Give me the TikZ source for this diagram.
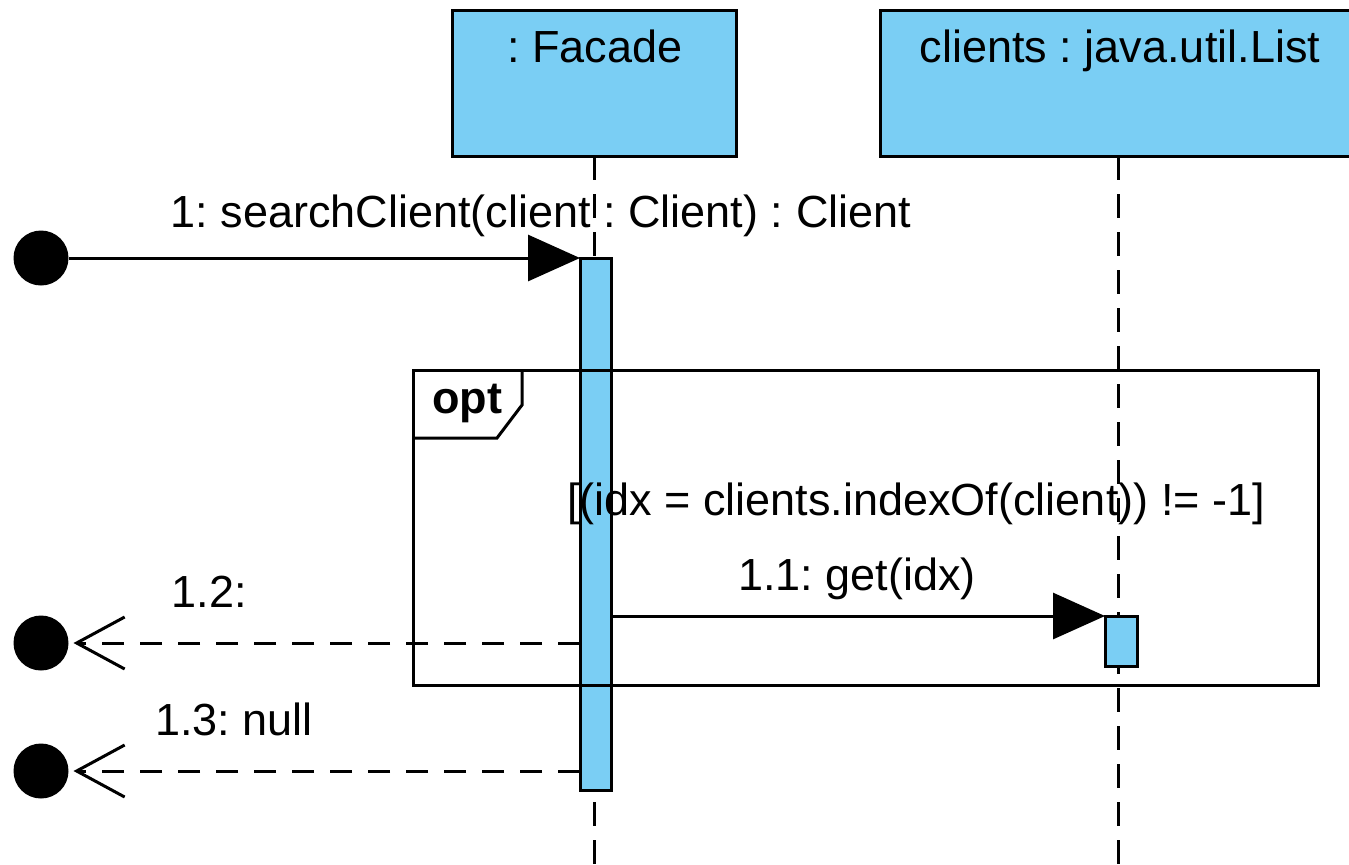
\documentclass[tikz,border=0pt]{standalone}
\usepackage{fontspec}
\setmainfont{Liberation Sans}
\usetikzlibrary{arrows.meta}
\definecolor{umlblue}{RGB}{122,206,244}
\frenchspacing
\begin{document}
\begin{tikzpicture}[x=0.5pt,y=-0.5pt,
  every node/.style={font=\fontsize{22.5}{27}\selectfont, inner sep=0pt, outer sep=0pt},
  objbox/.style={draw=black, line width=1.5pt, fill=umlblue, rectangle},
  actbar/.style={draw=black, line width=1.5pt, fill=umlblue, rectangle},
  lifeline/.style={line width=1.5pt, dash pattern=on 12pt off 7pt},
  syncmsg/.style={line width=1.5pt, -{Triangle[length=26pt,width=23pt]}},
  retmsg/.style={line width=1.5pt, dash pattern=on 11pt off 8pt, -{Straight Barb[length=24pt,width=26pt,line width=1.5pt]}},
  endpoint/.style={circle, fill=black, minimum size=27.5pt},
  framebox/.style={draw=black, line width=1.5pt, rectangle},
]
\clip (0,0) rectangle (1349,864);
\useasboundingbox (0,0) rectangle (1349,864);

% lifeline heads
\node[objbox, minimum width=142pt, minimum height=73pt] (facade) at (594,83) {};
\node[anchor=base] (facadeLbl) at (595,62) {: Facade};
\node[objbox, minimum width=238pt, minimum height=73pt] (clients) at (1118,83) {};
\node[anchor=base] (clientsLbl) at (1120,62) {clients : java.util.List};

\coordinate (facadeEnd) at (594,864);
\coordinate (clientsEnd) at (1118,864);
\draw[lifeline] (facade.south) -- (facadeEnd);
\draw[lifeline] (clients.south) -- (clientsEnd);

% activations
\node[actbar, minimum width=15.5pt, minimum height=266pt] (actF) at (595.5,524) {};
\node[actbar, minimum width=16pt, minimum height=25pt] (actC) at (1121,641) {};

% combined fragment
\node[framebox, minimum width=452.5pt, minimum height=157.5pt] (optFrame) at (865.5,527.5) {};
\coordinate (tabA) at (522,370);
\coordinate (tabB) at (522,405);
\coordinate (tabC) at (497,438);
\coordinate (tabD) at (413,438);
\draw[line width=1.5pt, line join=miter] (tabA) -- (tabB) -- (tabC) -- (tabD);
\node[anchor=base, font=\fontsize{22.5}{27}\selectfont\bfseries] (optLbl) at (467,413) {opt};
\node[anchor=base] (guard) at (916,515) {[(idx = clients.indexOf(client)) != -1]};

% message 1
\node[endpoint] (s1) at (41,258) {};
\draw[syncmsg] (s1.east) -- (actF.north west);
\node[anchor=base] (m1) at (541,227) {1: searchClient(client : Client) : Client};

% message 1.1
\coordinate (m11start) at (actF.east |- actC.north);
\draw[syncmsg] (m11start) -- (actC.north west);
\node[anchor=base] (m11) at (857,590) {1.1: get(idx)};

% message 1.2
\node[endpoint] (r12) at (41,643) {};
\coordinate (m12start) at (actF.west |- r12);
\draw[retmsg, shorten >=2.5pt] (m12start) -- (r12.east);
\node[anchor=base] (m12) at (209,607) {1.2:};

% message 1.3
\node[endpoint] (r13) at (41,771) {};
\coordinate (m13start) at (actF.west |- r13);
\draw[retmsg, shorten >=2.5pt] (m13start) -- (r13.east);
\node[anchor=base] (m13) at (234,735) {1.3: null};
\end{tikzpicture}
\end{document}
